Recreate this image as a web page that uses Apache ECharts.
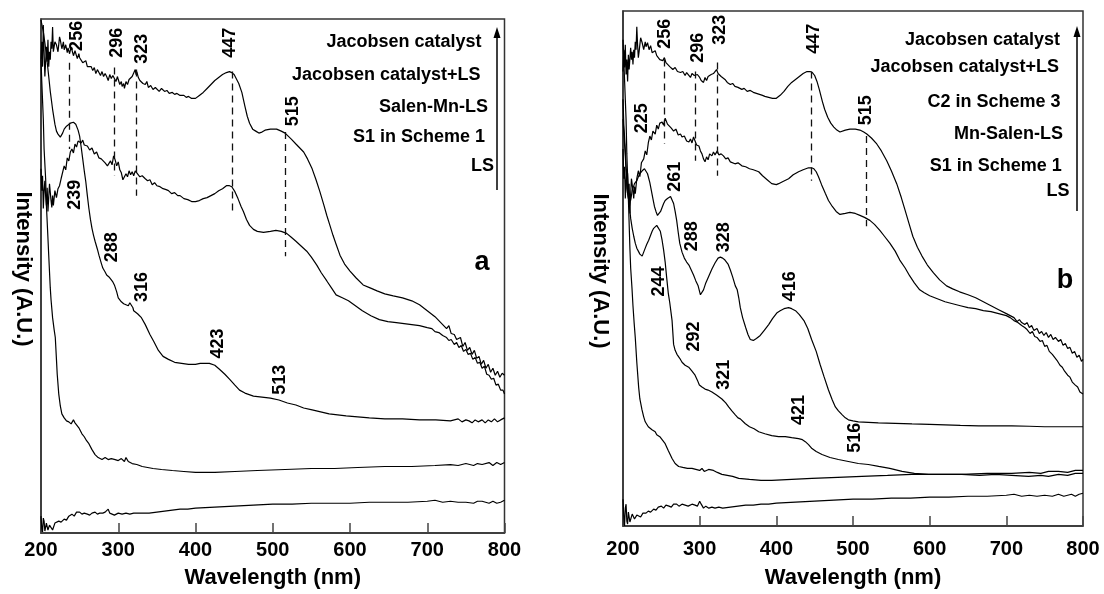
<!DOCTYPE html>
<html><head><meta charset="utf-8">
<script src="https://cdn.jsdelivr.net/npm/echarts/dist/echarts.min.js"></script>
<style>html,body{margin:0;padding:0;background:#fff}#c{width:1104px;height:594px}</style>
</head><body><div id="c"></div>
<script>
// ---------- DATA (wavelength nm, intensity a.u.) ----------
const xTicks = [200, 300, 400, 500, 600, 700, 800];

// Panel a
const namesA = ['Jacobsen catalyst', 'Jacobsen catalyst+LS', 'Salen-Mn-LS', 'S1 in Scheme 1', 'LS'];
const jacA = [[200,4.77],[201,4.95],[202,4.70],[203,5.12],[204,4.85],[205,4.60],[206,4.62],[207,4.90],[208,4.75],[209,4.97],[210,4.70],[211,4.85],[212,4.77],[213,4.95],[214,4.88],[215,5.10],[216,4.85],[218,4.95],[220,4.92],[222,4.85],[224,5.00],[225,4.97],[227,4.88],[229,4.95],[230,4.87],[232,4.92],[234,4.84],[235,4.89],[237,4.83],[239,4.90],[240,4.87],[242,4.81],[244,4.86],[245,4.84],[247,4.78],[249,4.83],[250,4.79],[252,4.80],[254,4.74],[256,4.75],[258,4.76],[260,4.70],[262,4.72],[265,4.70],[267,4.66],[269,4.69],[271,4.63],[273,4.67],[275,4.64],[277,4.61],[279,4.65],[281,4.60],[283,4.63],[285,4.60],[287,4.56],[289,4.62],[291,4.58],[293,4.61],[295,4.59],[297,4.55],[299,4.60],[300,4.57],[302,4.52],[304,4.55],[305,4.50],[307,4.53],[308,4.48],[310,4.55],[312,4.52],[314,4.57],[316,4.56],[318,4.60],[320,4.58],[322,4.67],[323,4.62],[324,4.65],[326,4.59],[328,4.56],[330,4.58],[332,4.53],[335,4.52],[337,4.55],[339,4.49],[342,4.51],[345,4.47],[348,4.49],[350,4.47],[353,4.45],[356,4.48],[360,4.45],[363,4.46],[366,4.43],[370,4.44],[373,4.42],[376,4.43],[380,4.41],[385,4.41],[388,4.39],[391,4.40],[395,4.38],[400,4.38],[405,4.41],[410,4.44],[415,4.48],[420,4.52],[425,4.56],[430,4.59],[435,4.62],[440,4.64],[444,4.65],[447,4.64],[450,4.62],[452,4.60],[456,4.53],[460,4.44],[464,4.30],[467,4.20],[470,4.13],[474,4.07],[478,4.05],[482,4.03],[486,4.04],[490,4.06],[497,4.07],[505,4.07],[511,4.05],[516,4.03],[520,4.00],[524,3.97],[530,3.92],[535,3.88],[540,3.84],[545,3.77],[551,3.67],[556,3.56],[561,3.44],[566,3.31],[570,3.20],[574,3.10],[578,3.00],[582,2.91],[587,2.80],[593,2.71],[600,2.64],[608,2.57],[617,2.50],[626,2.47],[635,2.44],[645,2.41],[656,2.39],[668,2.37],[680,2.34],[690,2.30],[700,2.24],[705,2.21],[710,2.18],[715,2.14],[720,2.10],[725,2.06],[728,2.09],[731,2.01],[735,2.00],[738,1.95],[740,1.94],[743,1.97],[746,1.88],[749,1.92],[752,1.84],[755,1.87],[758,1.80],[761,1.84],[764,1.76],[767,1.78],[770,1.70],[773,1.74],[776,1.66],[779,1.70],[782,1.62],[785,1.66],[788,1.59],[791,1.63],[794,1.57],[797,1.61],[800,1.59]];
const jacLSA = [[200,3.67],[201,3.45],[202,3.60],[203,3.27],[204,3.45],[205,3.55],[206,3.40],[207,3.30],[208,3.48],[209,3.24],[210,3.38],[211,3.52],[212,3.50],[213,3.35],[214,3.28],[215,3.40],[216,3.30],[218,3.45],[220,3.38],[222,3.47],[224,3.50],[226,3.57],[228,3.55],[230,3.70],[232,3.66],[234,3.78],[236,3.75],[238,3.84],[240,3.87],[242,3.83],[244,3.92],[246,3.89],[248,3.95],[250,3.97],[252,3.93],[254,3.96],[256,3.91],[258,3.93],[260,3.90],[263,3.86],[266,3.88],[269,3.82],[272,3.84],[275,3.78],[278,3.77],[280,3.75],[283,3.73],[286,3.70],[288,3.72],[290,3.75],[292,3.71],[294,3.80],[296,3.76],[298,3.70],[300,3.74],[302,3.66],[304,3.63],[306,3.56],[308,3.54],[310,3.62],[312,3.59],[314,3.65],[316,3.61],[318,3.64],[320,3.60],[322,3.65],[325,3.62],[328,3.59],[331,3.60],[335,3.57],[338,3.55],[341,3.56],[344,3.51],[347,3.53],[350,3.50],[354,3.49],[358,3.47],[362,3.46],[365,3.45],[369,3.42],[373,3.43],[377,3.40],[380,3.40],[385,3.37],[390,3.36],[395,3.34],[400,3.34],[405,3.35],[410,3.37],[415,3.38],[420,3.40],[425,3.42],[430,3.45],[435,3.47],[440,3.50],[444,3.50],[447,3.49],[451,3.44],[455,3.37],[459,3.29],[462,3.24],[466,3.16],[470,3.10],[475,3.06],[480,3.04],[488,3.03],[497,3.04],[504,3.05],[511,3.04],[518,3.02],[524,2.98],[530,2.94],[537,2.89],[544,2.84],[550,2.78],[557,2.70],[563,2.62],[570,2.54],[576,2.47],[582,2.40],[590,2.37],[598,2.34],[607,2.29],[616,2.24],[627,2.19],[638,2.15],[649,2.13],[660,2.12],[670,2.11],[680,2.10],[690,2.09],[700,2.07],[706,2.06],[710,2.03],[715,2.02],[720,1.99],[725,1.97],[728,1.94],[731,1.95],[735,1.90],[738,1.92],[741,1.87],[744,1.89],[747,1.83],[750,1.85],[753,1.80],[756,1.81],[759,1.75],[762,1.77],[765,1.71],[768,1.72],[771,1.66],[774,1.68],[777,1.60],[780,1.59],[783,1.55],[786,1.56],[789,1.49],[792,1.50],[795,1.44],[798,1.44],[800,1.40]];
const salenA = [[200,5.17],[201,5.17],[203,5.05],[205,4.94],[207,4.82],[210,4.60],[212,4.45],[215,4.27],[218,4.12],[220,4.05],[222,4.02],[225,3.99],[228,4.03],[230,4.07],[233,4.10],[235,4.12],[238,4.13],[240,4.14],[242,4.14],[245,4.12],[248,4.06],[250,4.00],[252,3.89],[254,3.77],[256,3.65],[258,3.54],[260,3.40],[262,3.27],[264,3.16],[266,3.07],[268,3.00],[270,2.94],[273,2.86],[275,2.80],[278,2.72],[280,2.67],[283,2.63],[285,2.60],[288,2.58],[290,2.56],[293,2.53],[295,2.50],[298,2.43],[300,2.37],[304,2.33],[307,2.31],[310,2.30],[313,2.29],[315,2.32],[317,2.34],[319,2.27],[320,2.24],[325,2.21],[330,2.17],[335,2.10],[341,2.00],[346,1.93],[352,1.84],[358,1.78],[365,1.75],[373,1.72],[382,1.71],[391,1.70],[400,1.70],[406,1.71],[412,1.71],[418,1.71],[425,1.69],[431,1.65],[438,1.60],[444,1.55],[451,1.49],[457,1.44],[464,1.41],[475,1.38],[486,1.37],[497,1.36],[508,1.34],[519,1.31],[530,1.29],[540,1.26],[551,1.24],[562,1.22],[573,1.20],[584,1.19],[595,1.18],[610,1.17],[625,1.16],[645,1.15],[668,1.15],[690,1.14],[711,1.14],[730,1.13],[740,1.15],[745,1.12],[750,1.14],[754,1.13],[758,1.11],[762,1.14],[766,1.12],[771,1.14],[775,1.11],[779,1.14],[783,1.12],[787,1.15],[791,1.12],[795,1.14],[800,1.16]];
const s1A = [[200,4.77],[201,4.55],[203,4.17],[204,3.87],[206,3.57],[207,3.30],[209,2.97],[210,2.80],[212,2.47],[213,2.35],[215,2.17],[217,2.05],[218.5,1.97],[220,1.75],[221,1.60],[223,1.40],[225,1.28],[227,1.20],[230,1.16],[233,1.13],[236,1.12],[239,1.10],[242,1.14],[244,1.11],[246,1.12],[249,1.06],[253,1.00],[256,0.97],[259,0.93],[262,0.90],[266,0.84],[270,0.79],[274,0.76],[279,0.74],[283,0.76],[287,0.74],[291,0.75],[296,0.74],[300,0.73],[304,0.75],[308,0.72],[310,0.76],[313,0.72],[318,0.70],[324,0.69],[331,0.67],[338,0.66],[345,0.65],[356,0.64],[370,0.63],[385,0.62],[400,0.61],[425,0.61],[451,0.62],[480,0.63],[516,0.64],[550,0.65],[580,0.65],[610,0.66],[645,0.67],[680,0.67],[710,0.68],[730,0.69],[740,0.68],[750,0.70],[760,0.68],[765,0.70],[771,0.69],[780,0.71],[785,0.68],[790,0.71],[795,0.69],[800,0.71]];
const lsA = [[200,0.17],[201,0.05],[202,0.01],[203,0.15],[204,0.12],[205,0.02],[206,0.00],[207,0.10],[208,0.09],[209,0.03],[210,0.02],[211,0.08],[213,0.07],[215,0.03],[216,0.05],[218,0.10],[220,0.09],[223,0.12],[226,0.11],[230,0.14],[233,0.13],[236,0.17],[240,0.19],[243,0.17],[246,0.21],[250,0.21],[253,0.19],[256,0.20],[260,0.19],[263,0.18],[266,0.20],[270,0.21],[273,0.19],[276,0.20],[280,0.20],[283,0.21],[287,0.24],[289,0.20],[292,0.19],[295,0.18],[300,0.20],[305,0.19],[310,0.20],[315,0.19],[320,0.20],[330,0.20],[340,0.20],[350,0.21],[360,0.22],[370,0.23],[380,0.24],[390,0.24],[400,0.25],[425,0.26],[450,0.27],[475,0.28],[500,0.29],[525,0.29],[550,0.30],[575,0.30],[600,0.30],[625,0.31],[650,0.31],[675,0.31],[700,0.32],[710,0.33],[720,0.31],[730,0.32],[740,0.31],[750,0.31],[760,0.30],[765,0.32],[771,0.32],[780,0.30],[785,0.32],[790,0.30],[795,0.31],[800,0.33]];
const dashA = [237, 295, 323, 447, 516];           // marked wavelengths (drawn positions)
const dashSpanA = [[4.74,3.87],[4.69,3.60],[4.67,3.40],[4.65,3.24],[4.04,2.79]];
const peakTextA = ['256','296','323','447','515','239','288','316','423','513'];

// Panel b
const namesB = ['Jacobsen catalyst', 'Jacobsen catalyst+LS', 'C2 in Scheme 3', 'Mn-Salen-LS', 'S1 in Scheme 1', 'LS'];
const jacB = [[200,4.58],[201,4.80],[202,4.62],[203,4.85],[204,4.55],[205,4.70],[206,4.48],[207,4.75],[208,4.60],[210,4.82],[211,4.70],[212,4.78],[213,4.65],[214,4.80],[215,4.72],[216,4.88],[217,4.80],[218,5.03],[219,4.85],[220,4.72],[221,4.78],[223,4.92],[225,4.87],[227,4.80],[229,4.88],[230,4.83],[232,4.87],[234,4.80],[236,4.84],[238,4.77],[240,4.77],[242,4.79],[244,4.74],[246,4.76],[248,4.70],[250,4.72],[252,4.69],[254,4.72],[256,4.67],[258,4.68],[261,4.63],[263,4.65],[265,4.60],[268,4.62],[271,4.58],[273,4.60],[275,4.57],[278,4.58],[281,4.54],[283,4.57],[285,4.55],[288,4.52],[290,4.56],[293,4.54],[295,4.53],[297,4.55],[300,4.52],[302,4.49],[304,4.50],[305,4.47],[307,4.52],[309,4.49],[311,4.53],[313,4.51],[315,4.55],[318,4.56],[320,4.58],[322,4.60],[324,4.56],[326,4.57],[328,4.53],[330,4.52],[333,4.50],[336,4.47],[338,4.49],[340,4.45],[343,4.46],[346,4.43],[350,4.42],[355,4.40],[358,4.41],[362,4.38],[366,4.39],[370,4.37],[374,4.36],[378,4.35],[382,4.34],[385,4.33],[390,4.32],[395,4.31],[400,4.31],[405,4.34],[410,4.38],[415,4.43],[420,4.47],[425,4.50],[430,4.53],[435,4.56],[440,4.58],[444,4.58],[447,4.57],[450,4.54],[453,4.48],[456,4.40],[460,4.28],[463,4.20],[467,4.12],[471,4.06],[475,4.02],[479,3.99],[483,3.97],[490,3.99],[496,4.00],[503,4.00],[509,3.99],[514,3.97],[518,3.95],[524,3.91],[531,3.85],[537,3.78],[544,3.68],[550,3.58],[557,3.45],[563,3.31],[568,3.18],[573,3.05],[578,2.92],[584,2.81],[590,2.72],[597,2.63],[605,2.55],[613,2.48],[622,2.42],[630,2.39],[639,2.36],[650,2.33],[660,2.30],[670,2.26],[680,2.22],[690,2.18],[700,2.14],[705,2.12],[710,2.10],[714,2.06],[717,2.08],[720,2.05],[724,2.03],[727,2.05],[730,2.00],[733,2.02],[736,1.97],[740,1.99],[743,1.94],[746,1.96],[749,1.92],[752,1.95],[755,1.90],[758,1.93],[761,1.88],[764,1.90],[768,1.86],[771,1.88],[774,1.82],[777,1.84],[780,1.79],[783,1.80],[786,1.74],[789,1.76],[792,1.70],[795,1.72],[798,1.66],[800,1.68]];
const jacLSB = [[200,3.80],[201,3.50],[202,3.62],[203,3.30],[204,3.48],[205,3.60],[206,3.55],[207,3.35],[208,3.45],[209,3.15],[210,3.35],[211,3.50],[212,3.52],[213,3.38],[214,3.30],[215,3.42],[216,3.35],[218,3.50],[220,3.58],[222,3.52],[224,3.66],[225,3.65],[227,3.70],[229,3.78],[231,3.74],[233,3.86],[235,3.93],[237,3.89],[239,3.98],[240,3.97],[242,3.95],[244,4.04],[246,4.00],[248,4.06],[251,4.07],[253,4.04],[255,4.11],[256,4.10],[258,4.05],[260,4.07],[263,4.01],[266,3.98],[269,4.00],[272,3.94],[275,3.95],[277,3.92],[280,3.93],[283,3.88],[286,3.87],[288,3.90],[290,3.86],[292,3.92],[294,3.88],[296,3.84],[299,3.83],[301,3.78],[303,3.75],[305,3.70],[307,3.67],[309,3.72],[311,3.69],[313,3.75],[316,3.73],[318,3.77],[320,3.74],[323,3.78],[325,3.74],[328,3.75],[331,3.73],[334,3.70],[337,3.71],[340,3.67],[342,3.68],[346,3.65],[350,3.66],[355,3.63],[360,3.62],[365,3.60],[370,3.59],[377,3.57],[382,3.53],[388,3.49],[394,3.45],[400,3.44],[403,3.45],[408,3.47],[416,3.50],[422,3.54],[429,3.57],[435,3.59],[442,3.61],[446,3.61],[449,3.60],[452,3.57],[455,3.52],[459,3.44],[464,3.35],[468,3.28],[473,3.22],[478,3.17],[483,3.14],[490,3.15],[496,3.16],[503,3.15],[509,3.13],[515,3.11],[522,3.08],[528,3.04],[535,2.98],[541,2.92],[548,2.85],[555,2.77],[561,2.68],[568,2.60],[574,2.52],[580,2.45],[587,2.38],[593,2.35],[600,2.32],[610,2.29],[620,2.26],[630,2.24],[640,2.22],[650,2.20],[660,2.19],[670,2.17],[680,2.16],[690,2.14],[700,2.12],[705,2.10],[710,2.07],[715,2.05],[720,2.02],[724,2.00],[727,1.98],[731,1.94],[734,1.96],[737,1.91],[740,1.90],[744,1.86],[747,1.87],[750,1.81],[753,1.82],[756,1.76],[760,1.73],[763,1.70],[766,1.67],[770,1.62],[773,1.60],[776,1.56],[780,1.52],[783,1.50],[786,1.45],[790,1.42],[793,1.40],[796,1.35],[800,1.33]];
const c2B = [[200,4.30],[201,4.05],[203,3.80],[205,3.40],[207,3.30],[210,3.28],[212,3.38],[215,3.45],[218,3.48],[220,3.52],[222,3.55],[225,3.58],[228,3.60],[230,3.58],[232,3.55],[235,3.46],[237,3.38],[239,3.30],[241,3.22],[243,3.17],[245,3.13],[247,3.14],[249,3.17],[251,3.21],[253,3.25],[255,3.28],[258,3.30],[260,3.32],[262,3.32],[264,3.30],[266,3.25],[268,3.17],[270,3.08],[272,2.96],[274,2.85],[277,2.76],[280,2.70],[283,2.66],[286,2.63],[289,2.58],[292,2.53],[295,2.47],[298,2.42],[300,2.36],[301,2.33],[303,2.35],[305,2.38],[308,2.45],[312,2.52],[316,2.59],[320,2.65],[324,2.70],[327,2.71],[330,2.70],[333,2.68],[337,2.64],[340,2.58],[343,2.51],[346.5,2.42],[349,2.38],[351,2.30],[353,2.20],[356,2.10],[360,2.00],[363,1.93],[366,1.88],[370,1.87],[374,1.89],[379,1.92],[384,1.97],[390,2.03],[395,2.09],[401,2.15],[405,2.17],[410,2.19],[416,2.20],[420,2.19],[425,2.17],[430,2.13],[436,2.07],[441,1.99],[446,1.88],[452,1.76],[457,1.63],[462,1.51],[468,1.37],[473,1.27],[477,1.20],[481,1.16],[486,1.12],[490,1.09],[494,1.07],[500,1.06],[507,1.05],[520,1.045],[533,1.04],[555,1.035],[577,1.03],[600,1.025],[620,1.02],[640,1.015],[664,1.01],[685,1.01],[707,1.01],[730,1.005],[750,1.00],[768,1.00],[785,1.00],[800,1.00]];
const mnSalenB = [[200,4.10],[202,3.85],[204,3.60],[206,3.40],[208,3.25],[210,3.10],[212,3.00],[214,2.92],[216,2.85],[218,2.80],[220,2.77],[222,2.74],[225,2.72],[227,2.76],[229,2.80],[231,2.84],[233.5,2.88],[236,2.93],[238,2.97],[240,3.00],[242,3.02],[244,3.03],[246,3.01],[248.7,2.97],[251,2.88],[253,2.78],[255,2.66],[257,2.50],[259,2.35],[261,2.25],[263,2.13],[264,2.07],[266,1.83],[268,1.77],[270.4,1.73],[274,1.69],[277,1.65],[281,1.62],[285.7,1.60],[290,1.56],[294,1.52],[297,1.47],[299.6,1.42],[303,1.40],[307,1.38],[311,1.37],[316,1.35],[322,1.32],[329,1.28],[334,1.24],[337.8,1.20],[342,1.16],[346.5,1.12],[350,1.09],[353,1.08],[359.6,1.03],[365,1.00],[371,0.98],[377,0.95],[385,0.93],[394,0.91],[403,0.90],[411.7,0.90],[420,0.89],[429,0.88],[434,0.87],[437.8,0.85],[442,0.82],[446.5,0.78],[452,0.75],[459.6,0.72],[470,0.69],[481,0.67],[494,0.65],[507,0.63],[520,0.62],[533.5,0.60],[548,0.58],[564,0.55],[580,0.53],[598.7,0.52],[620,0.52],[642,0.52],[665,0.51],[685.7,0.52],[707,0.51],[729,0.50],[745,0.51],[755,0.50],[768,0.52],[780,0.51],[790,0.53],[800,0.53]];
const s1B = [[200,4.90],[202,4.50],[204,4.10],[205,3.75],[207,3.30],[208,3.05],[209,2.80],[210,2.60],[211.7,2.40],[213,2.22],[214.5,2.05],[216,1.90],[218,1.65],[220.4,1.40],[222,1.28],[224.8,1.17],[227,1.10],[229,1.05],[233,1.00],[237.8,0.97],[242,0.95],[244,0.92],[246.5,0.93],[248,0.90],[251,0.87],[255,0.83],[259,0.76],[264,0.68],[268,0.63],[272.6,0.60],[278,0.59],[284,0.58],[290,0.58],[295,0.57],[300,0.56],[303,0.58],[306,0.55],[311.7,0.57],[318,0.56],[323,0.54],[329,0.52],[336,0.51],[343,0.50],[351,0.48],[365,0.47],[380,0.46],[394,0.46],[420,0.47],[446.5,0.48],[480,0.49],[511.7,0.50],[545,0.51],[577,0.52],[610,0.52],[642,0.52],[675,0.53],[707,0.53],[730,0.54],[745,0.53],[755,0.55],[768,0.55],[780,0.54],[790,0.56],[800,0.56]];
const lsB = [[200,0.27],[201,0.10],[202,0.00],[203,0.18],[204,0.22],[205,0.05],[206,0.02],[207,0.14],[208,0.15],[209,0.04],[210,0.05],[212,0.12],[215,0.07],[218,0.11],[220,0.10],[223,0.09],[226,0.13],[230,0.13],[233,0.15],[236,0.14],[240,0.17],[243,0.16],[246,0.19],[250,0.20],[253,0.18],[256,0.21],[260,0.20],[263,0.19],[266,0.22],[270,0.22],[273,0.20],[277,0.22],[281,0.21],[285,0.20],[290,0.22],[294,0.21],[297,0.20],[300,0.25],[302,0.22],[305,0.18],[308,0.20],[312,0.18],[316,0.19],[320,0.18],[325,0.19],[330,0.18],[340,0.19],[350,0.20],[360,0.21],[370,0.21],[380,0.22],[390,0.22],[400,0.23],[425,0.24],[450,0.25],[475,0.26],[500,0.27],[525,0.27],[550,0.28],[575,0.28],[600,0.29],[625,0.29],[650,0.30],[675,0.30],[700,0.31],[710,0.32],[720,0.30],[730,0.31],[740,0.30],[750,0.31],[760,0.30],[768,0.32],[775,0.30],[785,0.32],[790,0.30],[795,0.32],[800,0.33]];
const dashB = [254, 294, 322.6, 445, 517];
const dashSpanB = [[4.70,3.85],[4.58,3.68],[4.67,3.53],[4.58,3.48],[3.93,3.02]];
const peakTextB = ['256','296','323','447','515','225','261','288','328','244','416','292','321','421','516'];

// ---------- LAYOUT (annotation anchors, pixels / data coords) ----------
const peakPosA = [[246.6,5.01],[298.3,4.94],[330.7,4.88],[444.9,4.94],[526.4,4.25],[244.4,3.41],[291.7,2.88],[330.7,2.48],[429.8,1.91],[509.6,1.545]];
const peakPosB = [[255.2,4.96],[297.8,4.82],[326.9,5.00],[448.7,4.91],[517,4.19],[224.8,4.11],[268.2,3.52],[290,2.92],[331.3,2.91],[246.6,2.465],[418.2,2.415],[292.2,1.91],[331.3,1.525],[429.2,1.17],[503,0.89]];
const legA = {right:[481.5,480.5,488,485,494], y:[41.7,75.5,106.7,137.2,166.5], arrowX:497, arrowTop:27, arrowBottom:190, tag:'a', tagX:482, tagY:263, yNameX:23, yNameY:269};
const legB = {right:[1060,1059,1060.6,1063,1061.7,1069.5], y:[40,67,101.7,134,166,191], arrowX:1077, arrowTop:26, arrowBottom:211, tag:'b', tagX:1065, tagY:281, yNameX:600, yNameY:271};

const FONT = '"Liberation Sans", Arial, Helvetica, sans-serif';
const grids = [
  {left:41, right:599.5, top:19, bottom:57},
  {left:623, right:21, top:11, bottom:64}
];

function xAxisCfg(idx, margin, gap) {
  return {
    type:'value', gridIndex:idx, min:200, max:800, interval:100,
    name:'Wavelength (nm)', nameLocation:'middle', nameGap:gap,
    nameTextStyle:{fontFamily:FONT, fontWeight:'bold', fontSize:22, color:'#000'},
    axisLine:{show:true, lineStyle:{color:'#333', width:1.5}},
    axisTick:{show:true, inside:true, length:10, lineStyle:{color:'#444', width:1.5}},
    axisLabel:{show:true, margin:margin, fontFamily:FONT, fontWeight:'bold', fontSize:20, color:'#000', showMinLabel:true, showMaxLabel:true},
    splitLine:{show:false}
  };
}
function yAxisCfg(idx, max) {
  return {
    type:'value', gridIndex:idx, min:0, max:max,
    axisLine:{show:true, lineStyle:{color:'#333', width:1.5}},
    axisTick:{show:false}, axisLabel:{show:false}, splitLine:{show:false}
  };
}
function curve(data, idx) {
  return {type:'line', xAxisIndex:idx, yAxisIndex:idx, data:data, showSymbol:false, symbol:'none',
    lineStyle:{color:'#000', width:1.2}, silent:true, z:3};
}
function dashes(xs, spans) {
  return xs.map((x,i) => [{coord:[x, spans[i][0]]}, {coord:[x, spans[i][1]]}]);
}
function peakSeries(texts, pos, idx) {
  return {type:'scatter', xAxisIndex:idx, yAxisIndex:idx, silent:true, symbolSize:1,
    itemStyle:{color:'rgba(0,0,0,0)'}, z:5, labelLayout:{hideOverlap:false},
    data: pos.map((p,i) => ({value:p, name:texts[i]})),
    label:{show:true, formatter:'{b}', rotate:90, position:'inside', align:'center', verticalAlign:'middle',
      fontFamily:FONT, fontWeight:'bold', fontSize:18, color:'#000', opacity:1}
  };
}
function textEl(x, y, text, size, align, rot) {
  return {type:'text', x:x, y:y, rotation:rot||0, silent:true, z:10,
    style:{text:text, font:'bold '+size+'px '+FONT, fill:'#000', textAlign:align, align:align,
      textVerticalAlign:'middle', verticalAlign:'middle'}};
}
function panelGraphics(names, L) {
  const els = names.map((n,i) => textEl(L.right[i], L.y[i], n, 18, 'right'));
  els.push({type:'line', silent:true, shape:{x1:L.arrowX, y1:L.arrowBottom, x2:L.arrowX, y2:L.arrowTop+8},
    style:{stroke:'#000', lineWidth:1.5}});
  els.push({type:'polygon', silent:true, shape:{points:[[L.arrowX,L.arrowTop],[L.arrowX-3.5,L.arrowTop+11],[L.arrowX+3.5,L.arrowTop+11]]},
    style:{fill:'#000'}});
  els.push(textEl(L.tagX, L.tagY, L.tag, 27, 'center'));
  els.push(textEl(L.yNameX, L.yNameY, 'Intensity (A.U.)', 22, 'center', -Math.PI/2));
  return els;
}

const seriesA = [jacA, jacLSA, salenA, s1A, lsA].map(d => curve(d, 0));
const seriesB = [jacB, jacLSB, c2B, mnSalenB, s1B, lsB].map(d => curve(d, 1));
const mlStyle = {silent:true, symbol:['none','none'], label:{show:false}, animation:false,
  lineStyle:{type:[7,5], color:'#111', width:1.3}};
seriesA[0].markLine = Object.assign({}, mlStyle, {data: dashes(dashA, dashSpanA)});
seriesB[0].markLine = Object.assign({}, mlStyle, {data: dashes(dashB, dashSpanB)});

const option = {
  animation:false,
  backgroundColor:'#fff',
  grid: grids.map(g => Object.assign({show:true, borderColor:'#333', borderWidth:1.5, backgroundColor:'transparent'}, g)),
  xAxis:[xAxisCfg(0, 7, 34), xAxisCfg(1, 13, 41)],
  yAxis:[yAxisCfg(0, 5.18), yAxisCfg(1, 5.19)],
  series: seriesA.concat(seriesB, [peakSeries(peakTextA, peakPosA, 0), peakSeries(peakTextB, peakPosB, 1)]),
  graphic: panelGraphics(namesA, legA).concat(panelGraphics(namesB, legB))
};
const chart = echarts.init(document.getElementById('c'));
chart.setOption(option);
</script></body></html>
